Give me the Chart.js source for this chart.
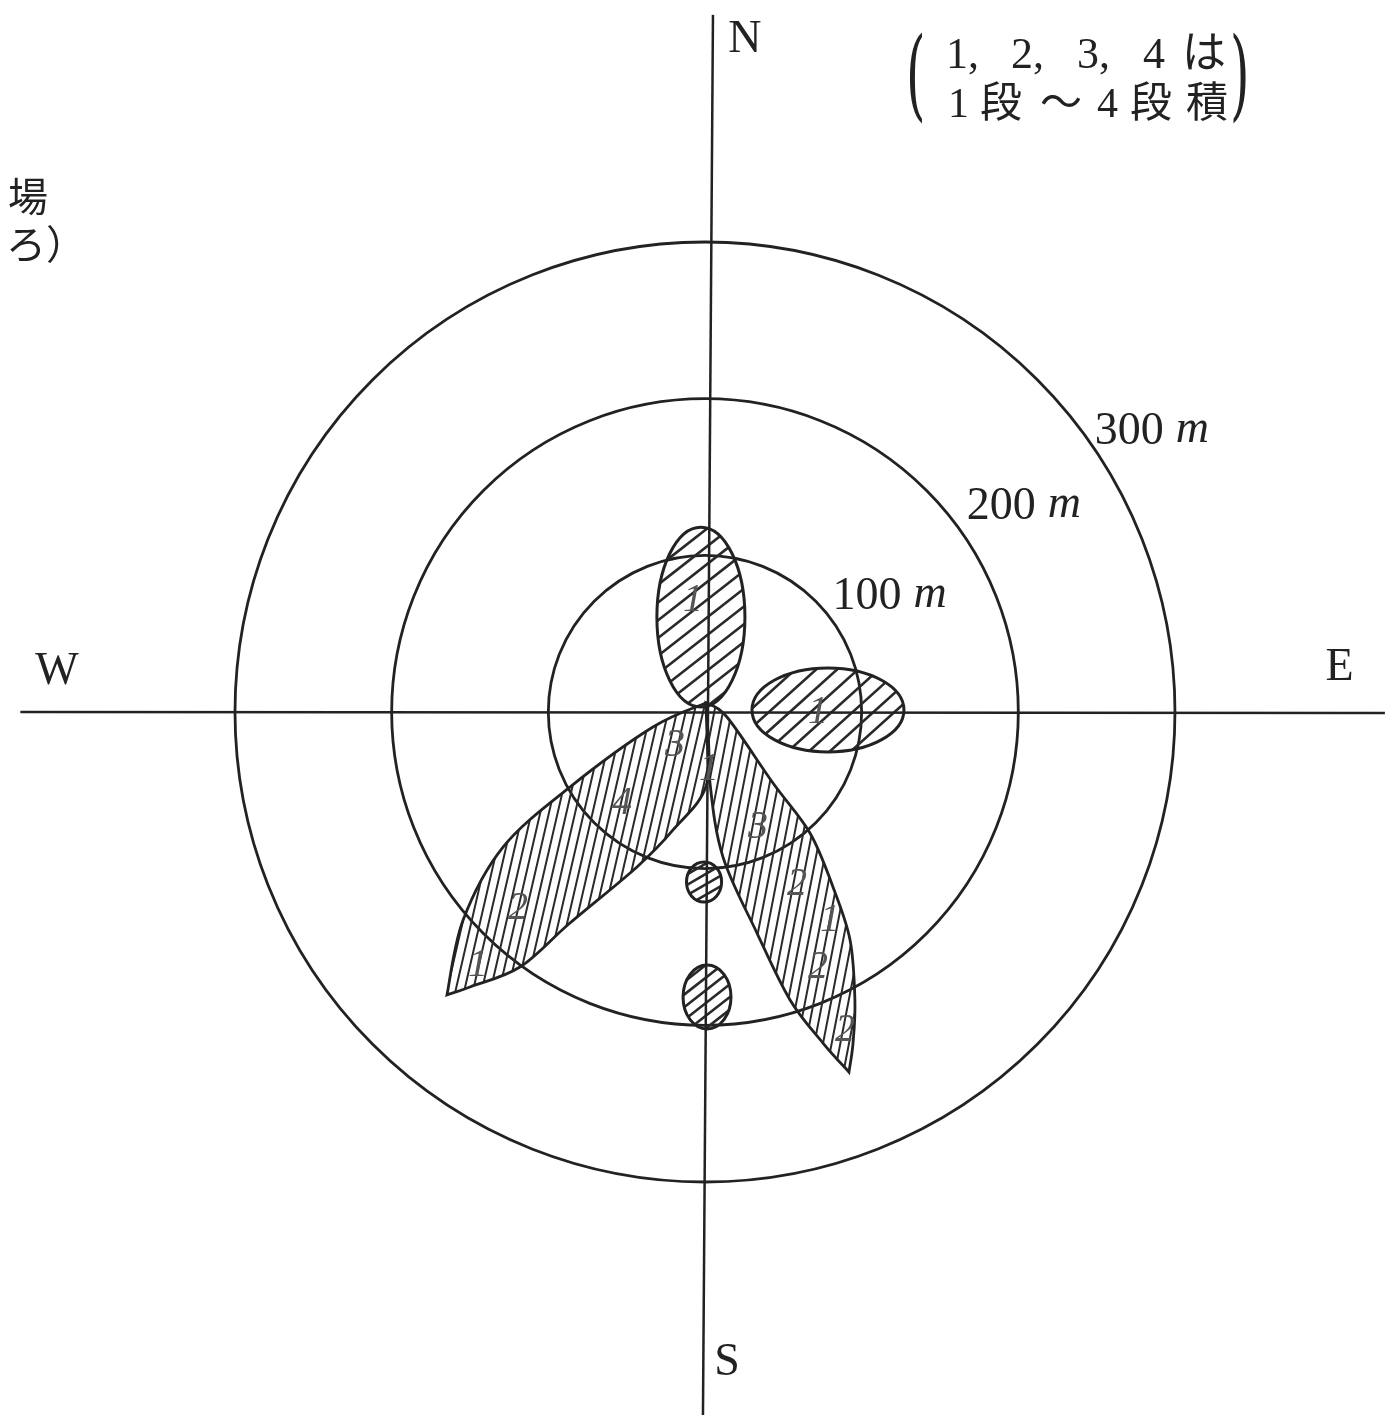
<!DOCTYPE html>
<html>
<head>
<meta charset="utf-8">
<script src="https://cdn.jsdelivr.net/npm/chart.js@4.4.0/dist/chart.umd.min.js"></script>
<style>
html, body { margin: 0; padding: 0; background: #fff; }
#wrap { width: 1386px; height: 1419px; }
</style>
</head>
<body>
<div id="wrap"><canvas id="myChart"></canvas></div>
<script>
// distances in metres, origin = centre point, +y = north
var ringRadii = [100, 200, 300];
var ringLabels = ['100', '200', '300'];
var compassLabels = ['N', 'E', 'S', 'W'];

// N-S and E-W reference lines (end points)
var nsLineX = [5.1, -1.3];
var nsLineY = [445, -448.7];
var ewLineX = [-437, 434];
var ewLineY = [0, -0.6];

// elliptic areas: centre x, centre y, half width, half height
var ellCx = [-2.6, 78.5, -0.6, 1.3];
var ellCy = [60.6, 1.3, -108.5, -181.9];
var ellRx = [28.1, 48.5, 11.2, 15.3];
var ellRy = [57.4, 26.8, 12.8, 20.4];

// south-west area, outline: upper edge tip->tip, then lower edge
var swUpperX = [0.6, -33.2, -86.2, -128.9, -154.4, -164.7];
var swUpperY = [5.7, -9.6, -47.9, -86.2, -132.8, -180.6];
var swLowerX = [0.6, 1.3, -20.4, -43.4, -86.2, -118.1, -150, -164.7];
var swLowerY = [5.7, -45.3, -75.3, -98.9, -134.7, -162.8, -175.5, -180.6];

// south-east area, outline: left edge tip->tip, then right edge
var seLeftX = [0.6, 3.2, 11.5, 33.2, 54.3, 75.3, 91.9];
var seLeftY = [5.7, -45.3, -92.6, -141.1, -183.8, -211.3, -229.8];
var seRightX = [0.6, 14, 43.4, 67, 81.7, 92.6, 95.7, 94.5, 91.9];
var seRightY = [5.7, -3.2, -45.3, -77.2, -111.7, -145.5, -183.8, -211.3, -229.8];

// stack numbers written inside the areas
var markText = ['1', '1', '3', '4', '2', '1', '3', '2', '1', '2', '2', '1'];
var markX = [-7.7, 72.1, -19.1, -53, -119.4, -144.9, 33.8, 58.7, 79.8, 72.1, 89.4, 2.6];
var markY = [71.5, 0, -21.1, -58.1, -125.1, -161.5, -74, -110.4, -132.8, -163.4, -203, -37];

// note texts
var noteLine1 = ['1,', '2,', '3,', '4', 'は'];
var noteLine2 = ['1', '段', '〜', '4', '段', '積'];
var sideText = ['場', 'ろ）'];

//---- styles
var ink = '#222';
var ellHatchAngle = [38, 42, 30, 38];
var ellHatchGap = [14, 14, 9, 10];
var leafHatchAngle = [77, 79];
var leafHatchGap = [8.5, 8.5];
var ringLabelAngle = [42, 38, 35.7];
var ringLabelGap = [15, 19, 10];

function hatch(ctx, cx, cy, R, angleDeg, gap) {
    var a = angleDeg * Math.PI / 180;
    var dx = Math.cos(a), dy = -Math.sin(a);
    var nx = -dy, ny = dx;
    ctx.beginPath();
    for (var k = -R; k <= R; k += gap) {
        ctx.moveTo(cx + nx * k - dx * R, cy + ny * k - dy * R);
        ctx.lineTo(cx + nx * k + dx * R, cy + ny * k + dy * R);
    }
    ctx.stroke();
}

// smooth curve through points (catmull-rom), appended to path
function smoothSide(path, pts, first) {
    if (first) path.moveTo(pts[0][0], pts[0][1]);
    for (var i = 0; i < pts.length - 1; i++) {
        var p0 = pts[Math.max(i - 1, 0)], p1 = pts[i], p2 = pts[i + 1];
        var p3 = pts[Math.min(i + 2, pts.length - 1)];
        path.bezierCurveTo(
            p1[0] + (p2[0] - p0[0]) / 6, p1[1] + (p2[1] - p0[1]) / 6,
            p2[0] - (p3[0] - p1[0]) / 6, p2[1] - (p3[1] - p1[1]) / 6,
            p2[0], p2[1]);
    }
}

var drawPlugin = {
    id: 'drawing',
    beforeDraw: function (chart) {
        var c = chart.ctx;
        c.save();
        c.fillStyle = '#fff';
        c.fillRect(0, 0, chart.width, chart.height);
        c.restore();
    },
    beforeDatasetsDraw: function (chart) {
        var c = chart.ctx;
        var xs = chart.scales.x, ys = chart.scales.y;
        var px = function (v) { return xs.getPixelForValue(v); };
        var py = function (v) { return ys.getPixelForValue(v); };
        var k = px(1) - px(0);
        c.save();
        c.strokeStyle = ink;
        // rings
        c.lineWidth = 2.8;
        ringRadii.forEach(function (r) {
            c.beginPath();
            c.arc(px(0), py(0), r * k, 0, Math.PI * 2);
            c.stroke();
        });
        // ellipses
        for (var i = 0; i < ellCx.length; i++) {
            var ex = px(ellCx[i]), ey = py(ellCy[i]), rx = ellRx[i] * k, ry = ellRy[i] * k;
            c.save();
            c.beginPath();
            c.ellipse(ex, ey, rx, ry, 0, 0, Math.PI * 2);
            c.clip();
            c.lineWidth = 2.6;
            c.strokeStyle = '#2a2a2a';
            hatch(c, ex, ey, Math.max(rx, ry) + 4, ellHatchAngle[i], ellHatchGap[i]);
            c.restore();
            c.beginPath();
            c.ellipse(ex, ey, rx, ry, 0, 0, Math.PI * 2);
            c.lineWidth = 3;
            c.stroke();
        }
        // leaf areas
        var leaves = [[swUpperX, swUpperY, swLowerX, swLowerY], [seLeftX, seLeftY, seRightX, seRightY]];
        leaves.forEach(function (lf, j) {
            var s1 = lf[0].map(function (v, n) { return [px(v), py(lf[1][n])]; });
            var s2 = lf[2].map(function (v, n) { return [px(v), py(lf[3][n])]; }).reverse();
            var path = new Path2D();
            smoothSide(path, s1, true);
            smoothSide(path, s2, false);
            path.closePath();
            var all = s1.concat(s2);
            var l = Math.min.apply(null, all.map(function (p) { return p[0]; }));
            var r = Math.max.apply(null, all.map(function (p) { return p[0]; }));
            var t = Math.min.apply(null, all.map(function (p) { return p[1]; }));
            var b = Math.max.apply(null, all.map(function (p) { return p[1]; }));
            c.save();
            c.clip(path);
            c.lineWidth = 2;
            c.strokeStyle = '#2a2a2a';
            hatch(c, (l + r) / 2, (t + b) / 2, Math.hypot(r - l, b - t) / 2 + 10, leafHatchAngle[j], leafHatchGap[j]);
            c.restore();
            c.lineWidth = 2.8;
            c.lineJoin = 'miter';
            c.stroke(path);
        });
        c.restore();
    },
    afterDatasetsDraw: function (chart) {
        var c = chart.ctx;
        var xs = chart.scales.x, ys = chart.scales.y;
        var px = function (v) { return xs.getPixelForValue(v); };
        var py = function (v) { return ys.getPixelForValue(v); };
        var k = px(1) - px(0);
        c.save();
        c.fillStyle = ink;
        c.textBaseline = 'middle';
        // compass letters
        c.font = '46px "Liberation Serif", serif';
        c.textAlign = 'center';
        var compPos = [[25.5, 429], [405.1, 28.1], [14, -415.4], [-413.6, 25.5]];
        compassLabels.forEach(function (t, i) {
            c.fillText(t, px(compPos[i][0]), py(compPos[i][1]));
        });
        // ring labels
        c.textAlign = 'left';
        ringLabels.forEach(function (t, i) {
            var a = ringLabelAngle[i] * Math.PI / 180;
            var rr = ringRadii[i] * k + ringLabelGap[i];
            var lx = px(0) + rr * Math.cos(a), ly = py(0) - rr * Math.sin(a);
            c.font = '46px "Liberation Serif", serif';
            c.fillText(t, lx, ly);
            var w = c.measureText(t).width;
            c.font = 'italic 46px "Liberation Serif", serif';
            c.fillText('m', lx + w + 12, ly - 2);
        });
        // stack numbers
        c.fillStyle = '#555';
        c.textAlign = 'center';
        c.font = 'italic 40px "Liberation Serif", serif';
        markText.forEach(function (t, i) {
            c.fillText(t, px(markX[i]), py(markY[i]));
        });
        // note, top right
        c.fillStyle = ink;
        c.textAlign = 'left';
        c.font = '44px "Liberation Serif", "Noto Sans CJK JP", serif';
        var n1x = [946, 1011, 1077, 1143, 1182];
        noteLine1.forEach(function (t, i) { c.fillText(t, n1x[i], 56); });
        c.font = '42px "Liberation Serif", "Noto Sans CJK JP", serif';
        var n2x = [948, 980, 1040, 1097, 1130, 1186];
        noteLine2.forEach(function (t, i) { c.fillText(t, n2x[i], 106); });
        c.font = '100px "DejaVu Serif", serif';
        c.save();
        c.translate(0, 82);
        c.scale(0.5, 1);
        c.fillText('(', 906 / 0.5, 0);
        c.fillText(')', 1230 / 0.5, 0);
        c.restore();
        // cut-off text, left
        c.font = '40px "Noto Sans CJK JP", sans-serif';
        c.fillText(sideText[0], 8, 196);
        c.fillText(sideText[1], 6, 244);
        c.restore();
    }
};

var ctx = document.getElementById('myChart').getContext('2d');
var myChart = new Chart(ctx, {
    type: 'scatter',
    data: {
        datasets: [{
            data: [{ x: nsLineX[0], y: nsLineY[0] }, { x: nsLineX[1], y: nsLineY[1] }],
            showLine: true,
            borderColor: ink,
            borderWidth: 2.5,
            pointRadius: 0
        }, {
            data: [{ x: ewLineX[0], y: ewLineY[0] }, { x: ewLineX[1], y: ewLineY[1] }],
            showLine: true,
            borderColor: ink,
            borderWidth: 2.5,
            pointRadius: 0
        }]
    },
    options: {
        responsive: true,
        maintainAspectRatio: false,
        animation: false,
        layout: { padding: 0 },
        plugins: {
            legend: { display: false },
            tooltip: { enabled: false }
        },
        scales: {
            x: { type: 'linear', min: -450, max: 434.7, display: false },
            y: { type: 'linear', min: -451.3, max: 454.5, display: false }
        }
    },
    plugins: [drawPlugin]
});
</script>
</body>
</html>
